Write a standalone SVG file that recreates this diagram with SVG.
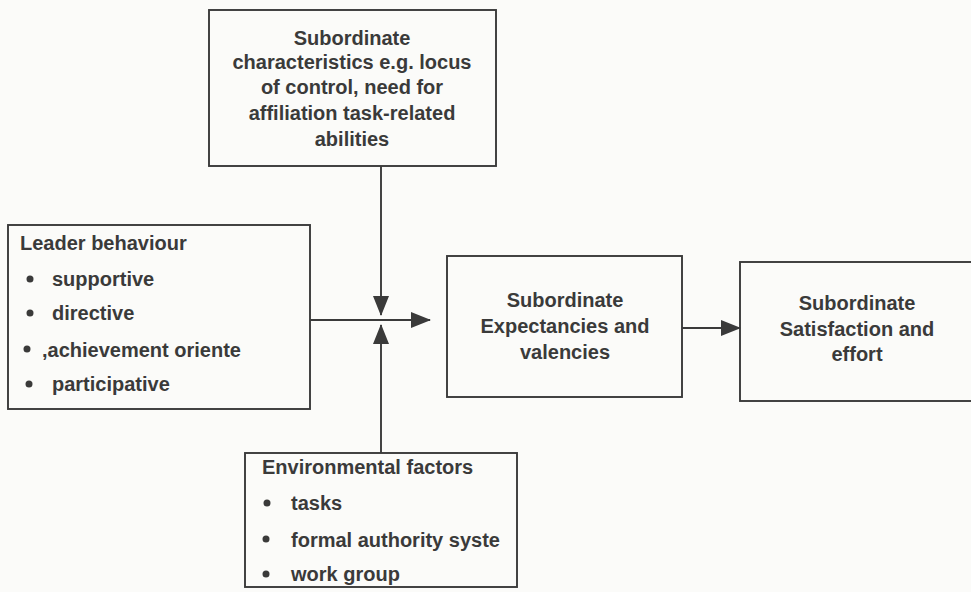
<svg xmlns="http://www.w3.org/2000/svg" width="971" height="592" viewBox="0 0 971 592">
  <defs>
    <marker id="arrow" viewBox="0 0 20 16" refX="19" refY="8" markerWidth="20" markerHeight="16" markerUnits="userSpaceOnUse" orient="auto">
      <path d="M0,0 L20,8 L0,16 Z" fill="#3a3a3a"/>
    </marker>
  </defs>
  <style>
    .box { fill: none; stroke: #3a3a3a; stroke-width: 1.9; }
    .t { font-family: "Liberation Sans", Arial, sans-serif; font-size: 20px; font-weight: bold; fill: #3a3a3a; }
    .c { text-anchor: middle; }
    .dot { fill: #3a3a3a; }
    .link { fill: none; stroke: #3a3a3a; stroke-width: 1.9; }
  </style>
  <rect width="971" height="592" fill="#fbfbf9"/>

  <g id="subordinate-characteristics">
    <rect class="box" x="209" y="10" width="287" height="156"/>
    <text class="t c" x="352" y="45">Subordinate</text>
    <text class="t c" x="352" y="69">characteristics e.g. locus</text>
    <text class="t c" x="352" y="94">of control, need for</text>
    <text class="t c" x="352" y="120">affiliation task-related</text>
    <text class="t c" x="352" y="146">abilities</text>
  </g>

  <g id="leader-behaviour">
    <rect class="box" x="8" y="225" width="302" height="184"/>
    <text class="t" x="20" y="250">Leader behaviour</text>
    <circle class="dot" cx="30" cy="279" r="3.5"/>
    <text class="t" x="52" y="286">supportive</text>
    <circle class="dot" cx="30" cy="313" r="3.5"/>
    <text class="t" x="52" y="320">directive</text>
    <circle class="dot" cx="27" cy="349" r="3.5"/>
    <text class="t" x="42" y="357">,achievement oriente</text>
    <circle class="dot" cx="29" cy="384" r="3.5"/>
    <text class="t" x="52" y="391">participative</text>
  </g>

  <g id="expectancies">
    <rect class="box" x="447" y="256" width="235" height="141"/>
    <text class="t c" x="565" y="307">Subordinate</text>
    <text class="t c" x="565" y="333">Expectancies and</text>
    <text class="t c" x="565" y="359">valencies</text>
  </g>

  <g id="satisfaction">
    <rect class="box" x="740" y="262" width="240" height="139"/>
    <text class="t c" x="857" y="310">Subordinate</text>
    <text class="t c" x="857" y="336">Satisfaction and</text>
    <text class="t c" x="857" y="361">effort</text>
  </g>

  <g id="environmental-factors">
    <rect class="box" x="245" y="453" width="272" height="134"/>
    <text class="t" x="262" y="474">Environmental factors</text>
    <circle class="dot" cx="267" cy="503" r="3.5"/>
    <text class="t" x="291" y="510">tasks</text>
    <circle class="dot" cx="266" cy="539" r="3.5"/>
    <text class="t" x="291" y="547">formal authority syste</text>
    <circle class="dot" cx="266" cy="574" r="3.5"/>
    <text class="t" x="291" y="581">work group</text>
  </g>

  <g id="connectors">
    <line class="link" x1="381" y1="166" x2="381" y2="315" marker-end="url(#arrow)"/>
    <line class="link" x1="381" y1="453" x2="381" y2="325" marker-end="url(#arrow)"/>
    <line class="link" x1="310" y1="320" x2="430" y2="320" marker-end="url(#arrow)"/>
    <line class="link" x1="682" y1="328" x2="740" y2="328" marker-end="url(#arrow)"/>
  </g>
</svg>
